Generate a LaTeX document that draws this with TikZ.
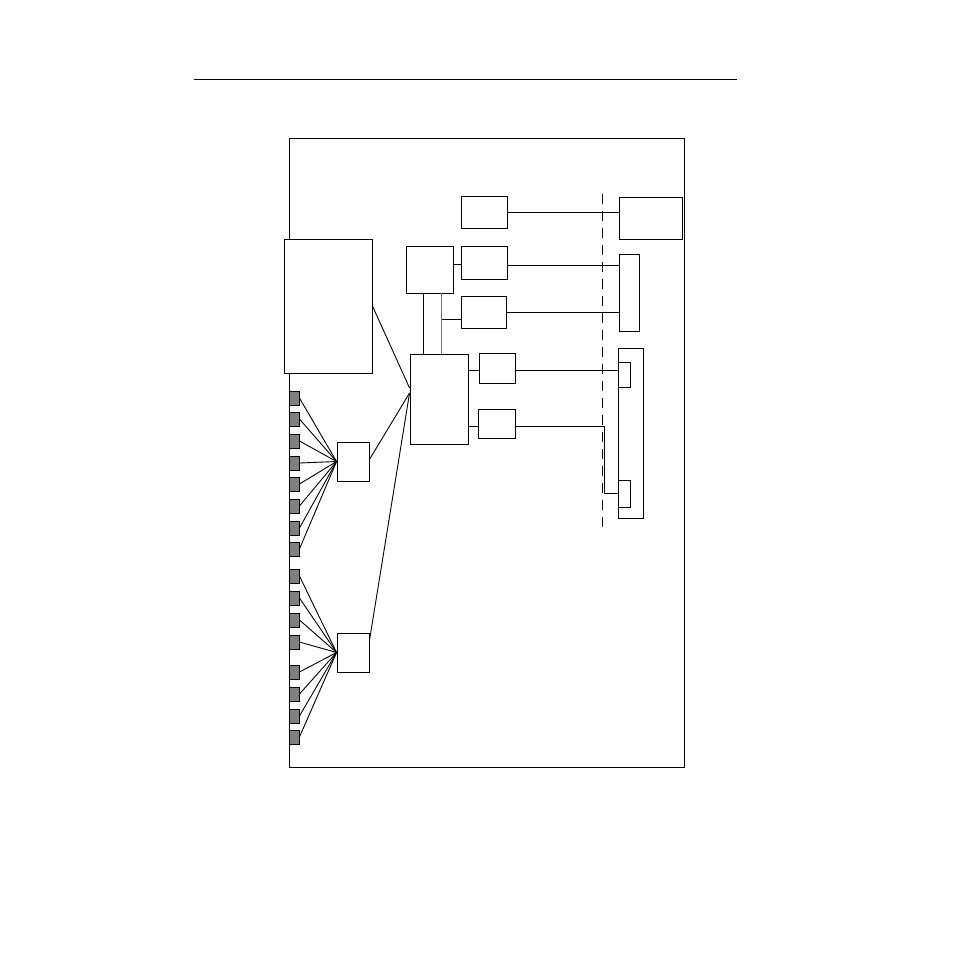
\documentclass[tikz,border=0pt]{standalone}
\usepackage{tikz}
\usetikzlibrary{calc}

\begin{document}
\begin{tikzpicture}[x=1pt, y=-1pt, line width=0.9pt]
  \tikzstyle{box}=[draw, fill=white, rectangle, inner sep=0pt]
  \tikzstyle{port}=[draw, fill=gray, rectangle, inner sep=0pt, minimum width=10pt, minimum height=14pt]
  \useasboundingbox (0,0) rectangle (954,954);

  % rule and frame
  \coordinate (RL) at (194,79);
  \coordinate (RR) at (737,79);
  \draw (RL) -- (RR);
  \coordinate (F1) at (289,138);
  \coordinate (F2) at (684,767);
  \draw (F1) rectangle (F2);

  \node[box, minimum width=88pt, minimum height=134pt] (P)  at (328,306)   {};
  \node[box, minimum width=47pt, minimum height=47pt]  (A)  at (429.5,269.5) {};
  \node[box, minimum width=58pt, minimum height=90pt]  (C)  at (439,399)   {};
  \node[box, minimum width=46pt, minimum height=32pt]  (T1) at (484,212)   {};
  \node[box, minimum width=46pt, minimum height=33pt]  (T2) at (484,262.5) {};
  \node[box, minimum width=45pt, minimum height=32pt]  (T3) at (483.5,312) {};
  \node[box, minimum width=36pt, minimum height=30pt]  (T4) at (497,368)   {};
  \node[box, minimum width=37pt, minimum height=29pt]  (T5) at (496.5,423.5) {};
  \node[box, minimum width=63pt, minimum height=42pt]  (R1) at (650.5,218) {};
  \node[box, minimum width=20pt, minimum height=77pt]  (R2) at (629,292.5) {};
  \node[box, minimum width=25pt, minimum height=170pt] (R3) at (630.5,433) {};
  \node[box, minimum width=12pt, minimum height=25pt]  (S1) at (624,374.5) {};
  \node[box, minimum width=12pt, minimum height=27pt]  (S2) at (624,493.5) {};
  \node[box, minimum width=32pt, minimum height=39pt]  (M1) at (353,461.5) {};
  \node[box, minimum width=32pt, minimum height=39pt]  (M2) at (353,652.5) {};

  \node[port] (Q1)  at (294,398) {};
  \node[port] (Q2)  at (294,419) {};
  \node[port] (Q3)  at (294,441) {};
  \node[port] (Q4)  at (294,463) {};
  \node[port] (Q5)  at (294,484) {};
  \node[port] (Q6)  at (294,506) {};
  \node[port] (Q7)  at (294,528) {};
  \node[port] (Q8)  at (294,549) {};
  \node[port] (Q9)  at (294,576) {};
  \node[port] (Q10) at (294,598) {};
  \node[port] (Q11) at (294,620) {};
  \node[port] (Q12) at (294,642) {};
  \node[port] (Q13) at (294,672) {};
  \node[port] (Q14) at (294,694) {};
  \node[port] (Q15) at (294,716) {};
  \node[port] (Q16) at (294,737) {};

  \path (M1.west) edge (Q1.east) edge (Q2.east) edge (Q3.east) edge (Q4.east)
                  edge (Q5.east) edge (Q6.east) edge (Q7.east) edge (Q8.east)
        (M2.west) edge (Q9.east) edge (Q10.east) edge (Q11.east) edge (Q12.east)
                  edge (Q13.east) edge (Q14.east) edge (Q15.east) edge (Q16.east);

  \path ([yshift=2pt]M1.east)   edge ([yshift=6pt]C.west)
        ([yshift=12pt]M2.east)  edge ([yshift=6pt]C.west)
        (P.east)                edge ([yshift=11pt]C.west);

  % bus between A and C
  \coordinate (B1) at ([xshift=-6pt]A.south);
  \coordinate (B2) at ([xshift=12pt]A.south);
  \draw (B1) -- (B1 |- C.north);
  \draw[gray!90!black] (B2) -- (B2 |- C.north);
  \draw ([yshift=-7pt]T3.west) -- ([yshift=-7pt]T3.west -| B2);
  \draw ([yshift=-2pt]T2.west) -- ([yshift=-2pt]T2.west -| A.east);
  \draw ([yshift=-2pt]T4.west) -- ([yshift=-2pt]T4.west -| C.east);
  \draw ([yshift=-3pt]T5.west) -- ([yshift=-3pt]T5.west -| C.east);

  % links to the right
  \draw (T1.east) -- (T1.east -| R1.west);
  \draw ([yshift=-3pt]T2.east) -- ([yshift=-3pt]T2.east -| R2.west);
  \draw (T3.east) -- (T3.east -| R2.west);
  \draw ([yshift=-2pt]T4.east) -- ([yshift=-2pt]T4.east -| S1.west);
  \draw ([yshift=-3pt]T5.east) -| ([xshift=-13pt]S2.west) -- (S2.west);

  \coordinate (D1) at (602,194);
  \coordinate (D2) at (602,530);
  \draw[dash pattern=on 10pt off 7pt] (D1) -- (D2);
\end{tikzpicture}
\end{document}
